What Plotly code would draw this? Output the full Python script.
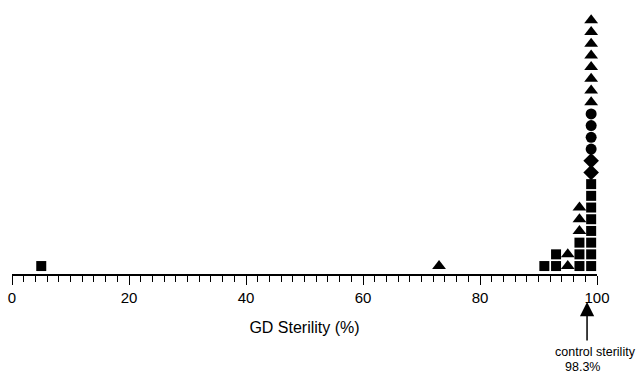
import plotly.graph_objects as go
from collections import defaultdict

# GD sterility (%) of individual lines, grouped by marker symbol
squares = [5, 91, 93, 93, 97, 97, 97, 99, 99, 99, 99, 99, 99, 99, 99]
diamonds = [99, 99]
circles = [99, 99, 99, 99]
triangles = [73, 95, 95, 97, 97, 97, 99, 99, 99, 99, 99, 99, 99, 99]
control_sterility = 98.3
x_ticks = [0, 20, 40, 60, 80, 100]

series = [
    ("square", squares, 10),
    ("diamond", diamonds, 12),
    ("circle", circles, 11),
    ("triangle-up", triangles, 12),
]

fig = go.Figure()
level = defaultdict(int)
for sym, vals, size in series:
    ys = []
    for v in vals:
        level[v] += 1
        ys.append(level[v])
    fig.add_trace(go.Scatter(
        x=vals, y=ys, mode="markers",
        marker=dict(symbol=sym, size=size, color="black", line=dict(width=0)),
        showlegend=False, hoverinfo="x", cliponaxis=False,
    ))

fig.update_layout(
    width=640, height=373,
    margin=dict(l=12, r=43, t=10, b=99, autoexpand=False),
    paper_bgcolor="white", plot_bgcolor="white",
    font=dict(family="Liberation Sans, Arial, sans-serif", color="black"),
    xaxis=dict(
        range=[0, 100], tickvals=x_ticks, ticktext=[str(t) for t in x_ticks],
        showgrid=False, zeroline=False, showline=True, linecolor="black", linewidth=1.5,
        ticks="outside", ticklen=9, tickwidth=1, tickcolor="black",
        minor=dict(dtick=2, ticks="outside", ticklen=6, tickwidth=1, tickcolor="black", showgrid=False),
        tickfont=dict(size=15), automargin=False,
        title=dict(text="GD Sterility (%)", font=dict(size=16), standoff=17),
    ),
    yaxis=dict(range=[0.32, 22.88], visible=False, showgrid=False, zeroline=False, automargin=False),
)

fig.add_annotation(
    x=control_sterility, y=-0.106, xref="x", yref="paper",
    text=" ", showarrow=True, arrowhead=2, arrowsize=1.9, arrowwidth=1.5,
    arrowcolor="black", ax=0, ay=41, font=dict(size=2),
)
fig.add_annotation(
    x=99.78, y=-0.295, xref="x", yref="paper", yanchor="middle",
    text="control sterility", showarrow=False, font=dict(size=12.5),
)
fig.add_annotation(
    x=97.6, y=-0.352, xref="x", yref="paper", yanchor="middle",
    text="98.3%", showarrow=False, font=dict(size=12.5),
)

fig.write_html("out.html", config={"displayModeBar": False},
               post_script="document.body.style.margin='0';")
